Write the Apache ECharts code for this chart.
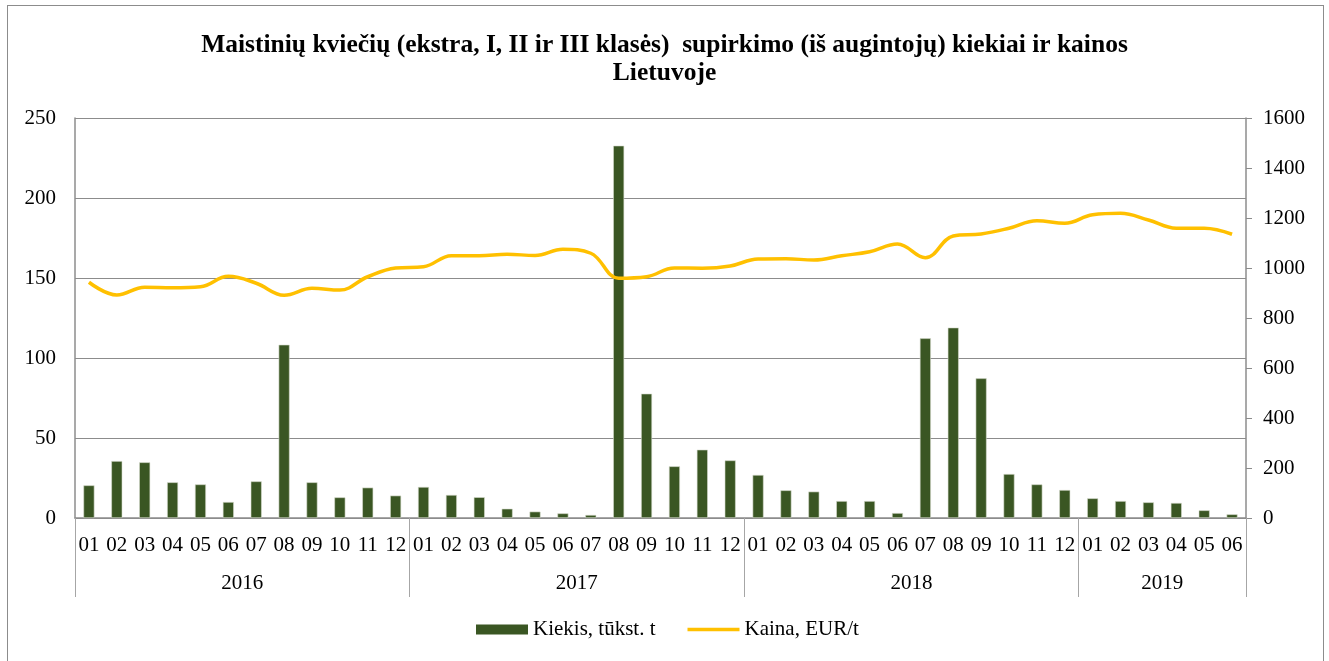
<!DOCTYPE html>
<html>
<head>
<meta charset="utf-8">
<title>Maistinių kviečių supirkimas</title>
<script src="https://cdn.jsdelivr.net/npm/echarts@6/dist/echarts.min.js"></script>
<style>
  html, body { margin: 0; padding: 0; background: #fff; }
  #frame {
    position: absolute; left: 7px; top: 5px;
    width: 1317px; height: 670px;
    border: 1px solid #8c8c8c; box-sizing: border-box;
  }
  #chart { position: absolute; left: 0; top: 0; width: 1329px; height: 661px; }
</style>
</head>
<body>
<div id="frame"></div>
<div id="chart"></div>
<script>
// menesiai ir metai
var months = ['01','02','03','04','05','06','07','08','09','10','11','12',
              '01','02','03','04','05','06','07','08','09','10','11','12',
              '01','02','03','04','05','06','07','08','09','10','11','12',
              '01','02','03','04','05','06'];
var years = ['2016', '2017', '2018', '2019'];
var yearMonths = [12, 12, 12, 6];

// kiekis, tukst. t
var kiekis = [20.4, 35.6, 34.8, 22.3, 21, 10, 22.9, 108.3, 22.3, 12.9, 19, 14,
              19.4, 14.4, 13, 5.8, 4, 2.9, 1.9, 232.7, 77.7, 32.3, 42.7, 36,
              26.9, 17.3, 16.5, 10.6, 10.6, 3.1, 112.3, 119, 87.3, 27.5, 21, 17.5,
              12.3, 10.6, 9.8, 9.4, 4.8, 2.3];

// kaina, EUR/t
var kaina = [943, 892, 923, 921, 925, 967, 939, 891, 919, 912, 965, 1000,
             1005, 1049, 1049, 1055, 1050, 1075, 1059, 959, 965, 1000, 999, 1008,
             1036, 1037, 1032, 1049, 1065, 1096, 1041, 1128, 1136, 1159, 1189, 1179,
             1213, 1219, 1192, 1159, 1159, 1135];

var leftTicks = [0, 250, 50];
var rightTicks = [0, 1600, 200];

// metu ribos ir viduriai
var bounds = [0], mids = [], midYear = {};
yearMonths.forEach(function (n, i) {
  var start = bounds[bounds.length - 1];
  bounds.push(start + n);
  mids.push(start + n / 2);
  midYear[start + n / 2] = years[i];
});

var font = 'Liberation Serif';
var gray = '#8c8c8c';

var myChart = echarts.init(document.getElementById('chart'));
var option = {
  animation: false,
  title: {
    text: 'Maistinių kviečių (ekstra, I, II ir III klasės)  supirkimo (iš augintojų) kiekiai ir kainos\nLietuvoje',
    left: 'center',
    top: 26,
    textStyle: { fontFamily: font, fontSize: 25.5, fontWeight: 'bold', color: '#000', lineHeight: 28 }
  },
  legend: {
    left: 476,
    top: 619,
    padding: 0,
    itemWidth: 52,
    itemHeight: 10,
    itemGap: 32,
    textStyle: { fontFamily: font, fontSize: 21, color: '#000' },
    data: [
      { name: 'Kiekis, tūkst. t', icon: 'rect', itemStyle: { borderWidth: 0 } },
      { name: 'Kaina, EUR/t', icon: 'path://M0 0H52V3.5H0Z', itemStyle: { color: '#ffc000', borderWidth: 0 } }
    ]
  },
  grid: { left: 75, right: 83, top: 118, bottom: 143 },
  xAxis: [
    {
      type: 'category',
      data: months,
      axisLine: { lineStyle: { color: gray, width: 1.5 } },
      axisTick: { show: false },
      axisLabel: { interval: 0, fontFamily: font, fontSize: 21, color: '#000', margin: 17 }
    },
    {
      type: 'value',
      position: 'bottom',
      min: 0,
      max: bounds[bounds.length - 1],
      interval: 3,
      axisLine: { show: false },
      splitLine: { show: false },
      axisTick: { customValues: bounds, length: 79, lineStyle: { color: '#a6a6a6' } },
      axisLabel: {
        customValues: mids,
        fontFamily: font, fontSize: 21, color: '#000', margin: 55,
        formatter: function (v) { return midYear[v] || ''; }
      }
    }
  ],
  yAxis: [
    {
      type: 'value',
      position: 'left',
      min: leftTicks[0], max: leftTicks[1], interval: leftTicks[2],
      axisLine: { show: true, lineStyle: { color: gray, width: 1.5 } },
      axisTick: { show: false },
      splitLine: { lineStyle: { color: gray, width: 1.2 } },
      axisLabel: { fontFamily: font, fontSize: 21, color: '#000', margin: 19 }
    },
    {
      type: 'value',
      position: 'right',
      min: rightTicks[0], max: rightTicks[1], interval: rightTicks[2],
      axisLine: { show: true, lineStyle: { color: gray, width: 1.5 } },
      axisTick: { show: true, length: 6, lineStyle: { color: gray } },
      splitLine: { show: false },
      axisLabel: {
        fontFamily: font, fontSize: 21, color: '#000', margin: 17,
        formatter: function (v) { return String(v); }
      }
    }
  ],
  series: [
    {
      name: 'Kiekis, tūkst. t',
      type: 'bar',
      xAxisIndex: 0,
      yAxisIndex: 0,
      data: kiekis,
      barWidth: 11,
      itemStyle: { color: '#3a5623', borderColor: '#d6dccf', borderWidth: 0.6 }
    },
    {
      name: 'Kaina, EUR/t',
      type: 'line',
      xAxisIndex: 0,
      yAxisIndex: 1,
      data: kaina,
      smooth: 0.4,
      symbol: 'none',
      z: 5,
      lineStyle: { color: '#ffc000', width: 3.5 },
      itemStyle: { color: '#ffc000' }
    }
  ]
};
myChart.setOption(option);
</script>
</body>
</html>
